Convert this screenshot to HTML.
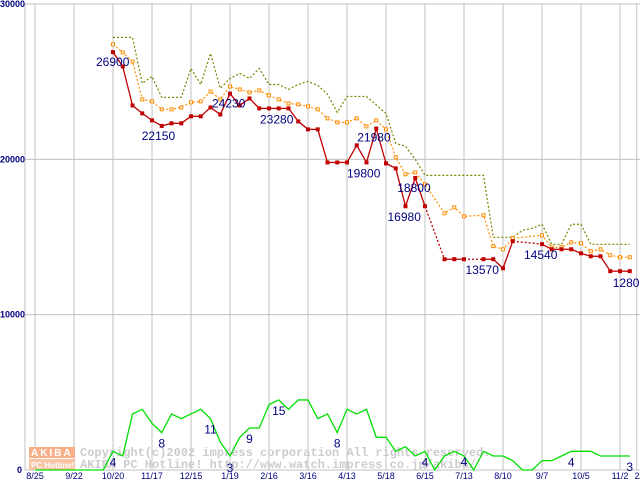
<!DOCTYPE html>
<html><head><meta charset="utf-8"><style>
body{margin:0;background:#fff}
svg{display:block}
</style></head><body>
<svg id="chart" width="640" height="480" xmlns="http://www.w3.org/2000/svg" font-family="Liberation Sans, sans-serif"></svg>
<script>
const xLabels=["8/25","9/22","10/20","11/17","12/15","1/19","2/16","3/16","4/13","5/18","6/15","7/13","8/10","9/7","10/5","11/2"];
const yTicks=[0,10000,20000,30000];
const weekStart=8;
const maxPrice=[27850,27850,27850,24890,25340,23990,23990,23990,25850,24820,26820,24570,25210,25530,25210,25850,24820,24820,24500,24820,25020,24760,24200,23020,24050,24050,24050,23500,22960,21030,20840,20000,18970,18970,18970,18970,18970,18970,18970,14980,14980,14980,15430,15560,15820,14530,14530,15820,15820,14530,14530,14530,14530,14530];
const avgPrice=[27400,26880,26300,23860,23730,23220,23220,23340,23670,23730,24370,23860,24690,24500,24310,24440,24120,23860,23600,23540,23410,23220,22640,22380,22380,22640,22120,22510,21930,20130,19040,19160,18390,null,16530,16910,16330,null,16400,14410,14210,14920,null,null,15110,14340,14340,14660,14600,14080,14210,13830,13700,13700];
const minPrice=[26900,25980,23470,22960,22510,22150,22320,22320,22770,22770,23340,22890,24230,23470,23920,23280,23280,23280,23280,22440,21930,21930,19800,19800,19800,20900,19800,21980,19740,19420,16980,18800,16980,null,13570,13570,13570,null,13570,13570,12990,14730,null,null,14540,14210,14210,14210,13950,13760,13760,12800,12800,12800];
const counts=[0,0,0,0,0,0,0,0,4,3,12,13,10,8,12,11,12,13,11,6,3,7,9,9,14,15,13,15,15,11,12,8,13,12,13,7,7,4,5,3,4,0,3,4,3,0,4,3,3,2,0,0,2,2,3,4,4,4,3,3,3,3];
const priceLabels=[[0,"26900",-17,14],[5,"22150",-20,14],[12,"24230",-18,14],[16,"23280",-9,15],[24,"19800",0,15],[27,"21980",-19,13],[31,"18800",-18,14],[30,"16980",-18,15],[38,"13570",-18,15],[44,"14540",-18,15],[53,"12800",-17,16]];
const countLabels=[[8,"4",5],[13,"8",5],[18,"11",5],[20,"3",6],[22,"9",5],[25,"15",5],[31,"8",5],[40,"4",5],[44,"4",0],[55,"4",5],[61,"3",5]];

const svg=document.getElementById('chart');
const NS='http://www.w3.org/2000/svg';
const X0=35,WK=9.75;
const xw=w=>X0+WK*w;
const yP=v=>470-v*0.015533;
const yC=c=>470-c*4.67;
function mk(tag,attrs,parent){const e=document.createElementNS(NS,tag);for(const k in attrs)e.setAttribute(k,attrs[k]);(parent||svg).appendChild(e);return e;}

xLabels.forEach((l,i)=>{const x=xw(i*4);
 const g=mk('line',{x1:x,y1:4,x2:x,y2:470,stroke:'#c0c0c0','stroke-width':1});
 
 
 const t=mk('text',{x:x,y:479,'font-size':9,fill:'#000080','text-anchor':'middle'});t.textContent=l;
 
 
});
[xw(61)+7].forEach(x=>{const g=mk('line',{x1:x,y1:4,x2:x,y2:470,stroke:'#c0c0c0'});
 
 
 const t=mk('text',{x:x+4,y:479,'font-size':9,fill:'#000080','text-anchor':'middle'});t.textContent='2/9';
 
 
});
yTicks.forEach(v=>{const y=yP(v);
 const g=mk('line',{x1:25,y1:y,x2:640,y2:y,stroke:'#c0c0c0'});
 
 
 const t=mk('text',{x:v===0?22:0,y:y+3,'font-size':9,'font-weight':'bold',fill:'#000080','text-anchor':v===0?'end':'start'});t.textContent=String(v);
 
 
});
const ax=mk('line',{x1:25,y1:3,x2:25,y2:470,stroke:'#c0c0c0'});



const wm=mk('g',{});


mk('rect',{x:29,y:447,width:46,height:11,fill:'#f7b08a'},wm);
mk('rect',{x:29,y:459,width:46,height:11,fill:'#f9c3a3'},wm);
const wt1=mk('text',{x:31,y:456,'font-size':10,'font-weight':'bold',fill:'#fff','letter-spacing':'2'},wm);wt1.textContent='AKIBA';
const wt2=mk('text',{x:31,y:468,'font-size':8,'font-weight':'bold',fill:'#fff'},wm);wt2.textContent='PC Hotline!';
const w1=mk('text',{x:80,y:456,'font-size':12,'font-family':'Liberation Mono, monospace',fill:'#cccccc','font-weight':'bold'},wm);w1.textContent='Copyright(c)2002 impress corporation All rights reserved.';
const w2=mk('text',{x:80,y:468,'font-size':12,'font-family':'Liberation Mono, monospace',fill:'#cccccc','font-weight':'bold'},wm);w2.textContent='AKIBA PC Hotline!  http://www.watch.impress.co.jp/akiba/';

let pts=counts.map((c,i)=>xw(i)+','+yC(c)).join(' ');
const cl=mk('polyline',{points:pts,fill:'none',stroke:'#00e000','stroke-width':1.3});



function series(arr,stroke,dash,name){
 const p=[];arr.forEach((v,i)=>{if(v!==null)p.push(xw(i+weekStart)+','+yP(v));});
 const l=mk('polyline',{points:p.join(' '),fill:'none',stroke:stroke,'stroke-width':1.2,'stroke-dasharray':dash});
 
 
}
series(maxPrice,'#808000','2,2','max-price-line');
series(avgPrice,'#ff8c00','2,2','avg-price-line');
avgPrice.forEach((v,i)=>{if(v===null)return;
 const r=mk('rect',{x:xw(i+weekStart)-1.5,y:yP(v)-1.5,width:3,height:3,fill:'#fff',stroke:'#ff8c00','stroke-width':1});
 
 
});
const mp=[];minPrice.forEach((v,i)=>{if(v!==null)mp.push([i,v]);});
for(let k=1;k<mp.length;k++){const [i0,v0]=mp[k-1],[i1,v1]=mp[k];
 const s=mk('line',{x1:xw(i0+weekStart),y1:yP(v0),x2:xw(i1+weekStart),y2:yP(v1),stroke:'#c00000','stroke-width':1.3});
 if(i1-i0>1)s.setAttribute('stroke-dasharray','2,2');
 
 
}
mp.forEach(([i,v])=>{
 const r=mk('rect',{x:xw(i+weekStart)-2,y:yP(v)-2,width:4,height:4,fill:'#c00000'});
 
 
});
priceLabels.forEach(([i,t,dx,dy])=>{
 const e=mk('text',{x:xw(i+weekStart)+dx,y:yP(minPrice[i])+dy,'font-size':12,fill:'#000080'});e.textContent=t;
 
 
});
countLabels.forEach(([i,t,dy])=>{
 const e=mk('text',{x:xw(i),y:yC(counts[i])+dy+10,'font-size':12,fill:'#000080','text-anchor':'middle'});e.textContent=t;
 
 
});
</script>
</body></html>
